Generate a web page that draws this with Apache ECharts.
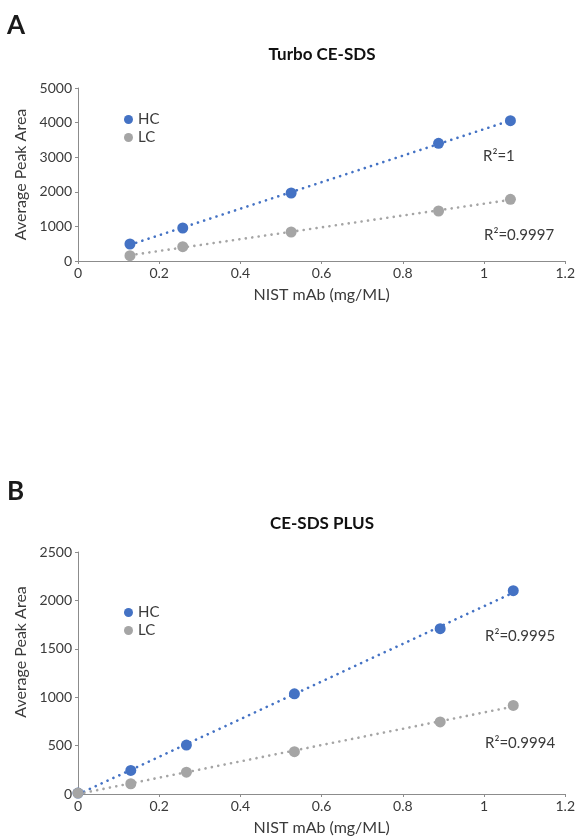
<!DOCTYPE html>
<html lang="en">
<head>
    <meta charset="UTF-8">
    <title>NIST mAb linearity</title>
    <style>
        html, body { margin: 0; padding: 0; background: #fff; }
        #chart { width: 578px; height: 837px; }
    </style>
</head>
<body>
<div id="chart"></div>
<script src="https://cdn.jsdelivr.net/npm/echarts@6/dist/echarts.min.js"></script>
<script>
    // panel A - Turbo CE-SDS
    var xA = [0.128, 0.258, 0.525, 0.888, 1.065];
    var hcA = [491, 954, 1965, 3402, 4055];
    var lcA = [153, 413, 838, 1445, 1783];
    var r2A = ['R\u00B2=1', 'R\u00B2=0.9997'];

    // panel B - CE-SDS PLUS
    var xB = [0, 0.13, 0.267, 0.533, 0.892, 1.072];
    var hcB = [10, 243, 505, 1035, 1708, 2100];
    var lcB = [10, 106, 225, 437, 745, 915];
    var r2B = ['R\u00B2=0.9995', 'R\u00B2=0.9994'];

    var titles = ['Turbo CE-SDS', 'CE-SDS PLUS'];
    var xName = 'NIST mAb (mg/ML)';
    var yName = 'Average Peak Area';

    var FONT = 'Lato, "Open Sans", sans-serif';
    var TXT = '#3a3a3a';
    var AXIS = '#8c8c8c';
    var BLUE = '#4472C4';
    var GRAY = '#A5A5A5';

    function pairs(xs, ys) {
        var res = [];
        for (var i = 0; i < xs.length; i++) res.push([xs[i], ys[i]]);
        return res;
    }

    // least squares trendline, min x to max x
    function trend(xs, ys) {
        var n = xs.length, mx = 0, my = 0, sxy = 0, sxx = 0;
        for (var i = 0; i < n; i++) { mx += xs[i]; my += ys[i]; }
        mx /= n; my /= n;
        for (var j = 0; j < n; j++) {
            sxy += (xs[j] - mx) * (ys[j] - my);
            sxx += (xs[j] - mx) * (xs[j] - mx);
        }
        var k = sxy / sxx, b = my - k * mx;
        var x0 = Math.min.apply(null, xs), x1 = Math.max.apply(null, xs);
        return [[x0, b + k * x0], [x1, b + k * x1]];
    }

    function xAxis(idx) {
        return {
            type: 'value', gridIndex: idx, min: 0, max: 1.2, interval: 0.2,
            name: xName, nameLocation: 'middle', nameGap: 26,
            nameTextStyle: { color: TXT, fontSize: 16, fontFamily: FONT },
            axisLine: { show: true, lineStyle: { color: AXIS, width: 1 } },
            axisTick: { show: true, length: 3, lineStyle: { color: AXIS } },
            axisLabel: { color: TXT, fontSize: 14, margin: 5, fontFamily: FONT },
            splitLine: { show: false }
        };
    }

    function yAxis(idx, max, step, pad) {
        return {
            type: 'value', gridIndex: idx, min: 0, max: max, interval: step,
            name: yName, nameLocation: 'middle', nameGap: 42,
            nameTextStyle: { color: TXT, fontSize: 16, fontFamily: FONT, padding: pad },
            axisLine: { show: true, lineStyle: { color: AXIS, width: 1 } },
            axisTick: { show: true, length: 3, lineStyle: { color: AXIS } },
            axisLabel: {
                color: TXT, fontSize: 14, margin: 6, fontFamily: FONT,
                formatter: function (v) { return String(v); }
            },
            splitLine: { show: false }
        };
    }

    function dots(name, color, idx, data) {
        return {
            name: name, type: 'scatter', xAxisIndex: idx, yAxisIndex: idx,
            symbol: 'circle', symbolSize: 11, z: 3,
            itemStyle: { color: color, opacity: 1 },
            data: data
        };
    }

    function fitLine(color, idx, data) {
        return {
            name: 'trend', type: 'line', xAxisIndex: idx, yAxisIndex: idx,
            symbol: 'none', z: 2, clip: true, silent: true,
            lineStyle: { color: color, width: 2.6, type: [0.1, 6.4], cap: 'round' },
            data: data
        };
    }

    function legend(top) {
        return {
            data: ['HC', 'LC'], orient: 'vertical', left: 124, top: top,
            padding: 0, itemGap: 3, itemWidth: 9, itemHeight: 9, icon: 'circle',
            textStyle: { color: TXT, fontSize: 15, fontFamily: FONT }
        };
    }

    function label(text, x, y) {
        return {
            type: 'text', x: x, y: y,
            style: { text: text, fill: TXT, font: '15px ' + FONT, verticalAlign: 'middle' }
        };
    }

    var myChart = echarts.init(document.getElementById('chart'));
    myChart.setOption({
        animation: false,
        textStyle: { fontFamily: FONT },
        grid: [
            { left: 78, right: 11, top: 88, height: 173 },
            { left: 78, right: 11, top: 552, height: 244 }
        ],
        xAxis: [xAxis(0), xAxis(1)],
        yAxis: [yAxis(0, 5000, 1000, 0), yAxis(1, 2500, 500, [0, 0, 0, 42])],
        legend: [legend(112), legend(605)],
        graphic: [
            { type: 'text', x: 7, y: 26, style: { text: 'A', font: 'bold 26px ' + FONT, fill: '#1a1a1a', verticalAlign: 'middle' } },
            { type: 'text', x: 7, y: 492, style: { text: 'B', font: 'bold 26px ' + FONT, fill: '#1a1a1a', verticalAlign: 'middle' } },
            { type: 'text', x: 322, y: 55, style: { text: titles[0], font: 'bold 17px ' + FONT, fill: '#111', align: 'center', verticalAlign: 'middle' } },
            { type: 'text', x: 322, y: 524, style: { text: titles[1], font: 'bold 17px ' + FONT, fill: '#111', align: 'center', verticalAlign: 'middle' } },
            label(r2A[0], 483, 156),
            label(r2A[1], 484, 235),
            label(r2B[0], 485, 636),
            label(r2B[1], 485, 743)
        ],
        series: [
            fitLine(BLUE, 0, trend(xA, hcA)),
            fitLine(GRAY, 0, trend(xA, lcA)),
            dots('HC', BLUE, 0, pairs(xA, hcA)),
            dots('LC', GRAY, 0, pairs(xA, lcA)),
            fitLine(BLUE, 1, trend(xB, hcB)),
            fitLine(GRAY, 1, trend(xB, lcB)),
            dots('HC', BLUE, 1, pairs(xB, hcB)),
            dots('LC', GRAY, 1, pairs(xB, lcB))
        ]
    });

    window.addEventListener('resize', function () {
        myChart.resize();
    });
</script>
</body>
</html>
